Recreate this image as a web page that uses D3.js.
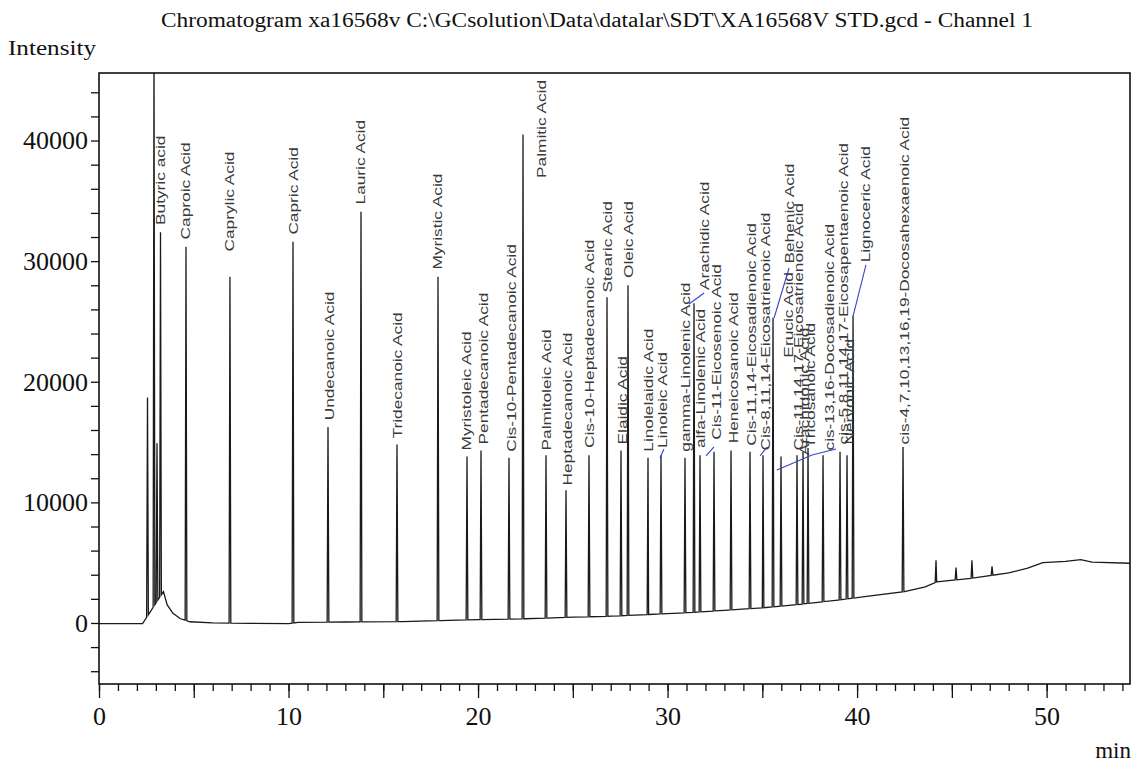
<!DOCTYPE html>
<html>
<head>
<meta charset="utf-8">
<script src="https://cdn.jsdelivr.net/npm/d3@7"></script>
<style>
  body { margin: 0; background: #fff; }
  svg text { font-family: "Liberation Serif", "Times New Roman", serif; fill: #111; }
  svg text.pk-label { font-family: "Liberation Sans", Arial, sans-serif; font-size: 13.5px; fill: #3a3a3a; }
</style>
</head>
<body>
<script>
// ---- data (time in min, intensity) ----
const peakNames = [
  "Butyric acid", "Caproic Acid", "Caprylic Acid", "Capric Acid", "Undecanoic Acid",
  "Lauric Acid", "Tridecanoic Acid", "Myristic Acid", "Myristoleic Acid", "Pentadecanoic Acid",
  "Cis-10-Pentadecanoic Acid", "Palmitic Acid", "Palmitoleic Acid", "Heptadecanoic Acid",
  "Cis-10-Heptadecanoic Acid", "Stearic Acid", "Elaidic Acid", "Oleic Acid", "Linolelaidic Acid",
  "Linoleic Acid", "gamma-Linolenic Acid", "Arachidic Acid", "alfa-Linolenic Acid",
  "Cis-11-Eicosenoic Acid", "Heneicosanoic Acid", "Cis-11,14-Eicosadienoic Acid",
  "Cis-8,11,14-Eicosatrienoic Acid", "Behenic Acid", "Erucic Acid",
  "Cis-11,14,17-Eicosatrienoic Acid", "Arachidonic Acid", "Tricosanoic Acid",
  "cis-13,16-Docosadienoic Acid", "cis-5,8,11,14,17-Eicosapentaenoic Acid", "Nervonic Acid",
  "Lignoceric Acid", "cis-4,7,10,13,16,19-Docosahexaenoic Acid"
];
const peakTimes = [
  3.245, 4.59, 6.91, 10.236, 12.083,
  13.824, 15.724, 17.887, 19.417, 20.156,
  21.633, 22.372, 23.586, 24.641,
  25.855, 26.805, 27.543, 27.913, 28.968,
  29.654, 30.92, 31.395, 31.712,
  32.451, 33.348, 34.35,
  35.036, 35.564, 35.986,
  36.83, 37.147, 37.411,
  38.203, 39.1, 39.469,
  39.786, 42.424
];
const peakHeights = [
  32400, 31200, 28700, 31600, 16250,
  34100, 14800, 28700, 13800, 14300,
  13700, 40500, 13900, 11000,
  13900, 27000, 14300, 28000, 13700,
  13900, 13700, 26500, 13900,
  14200, 14300, 14200,
  13900, 25300, 13800,
  13900, 14200, 14500,
  13900, 14200, 13900,
  25500, 14600
];
// where each label starts (its lower end), same units
const labelTimes = [
  3.271, 4.59, 6.86, 10.289, 12.136,
  13.824, 15.724, 17.887, 19.417, 20.314,
  21.739, 23.322, 23.586, 24.694,
  25.855, 26.805, 27.596, 27.965, 28.968,
  29.707, 30.92, 31.975, 31.712,
  32.556, 33.453, 34.403,
  35.142, 36.46, 36.407,
  36.883, 37.2, 37.516,
  38.518, 39.257, 39.574,
  40.47, 42.476
];
const labelLevels = [
  33000, 31800, 30800, 32200, 16800,
  34700, 15300, 29300, 14300, 14800,
  14200, 36900, 14300, 11400,
  14500, 27400, 14800, 28600, 14200,
  14500, 14200, 27600, 14500,
  15200, 14900, 14700,
  14300, 29800, 22000,
  14300, 13900, 14500,
  14300, 14800, 14800,
  29900, 14800
];
// unlabelled peaks (solvent and late small ones)
const extraTimes = [2.559, 2.902, 3.06, 44.165, 45.22, 46.06, 47.12];
const extraHeights = [18700, 48000, 14900, 5200, 4600, 5200, 4700];

// baseline of the trace
const baseTimes = [0, 2.3, 3.4, 3.6, 3.9, 4.3, 4.8, 6, 8, 10, 10.5, 13, 16, 18, 20, 22.5, 25, 27, 29, 31,
  33, 35, 37, 39, 40.5, 42.5, 43.6, 44.2, 46, 48, 49, 49.8, 51, 51.8, 52.4, 54.4];
const baseLevels = [-50, -50, 2600, 1500, 800, 350, 100, 0, -30, -50, 50, 80, 120, 200, 280, 350, 480, 560, 700, 850,
  1050, 1250, 1550, 1900, 2200, 2600, 3000, 3400, 3700, 4150, 4550, 5000, 5100, 5250, 5050, 4950];

// hand-drawn blue marks: [t1, I1, t2, I2]
const blueMarks = [
  [29.60, 13680, 29.81, 14426],
  [31.13, 26448, 31.93, 27360],
  [32.03, 13846, 32.45, 14592],
  [34.88, 13846, 35.25, 14592],
  [35.62, 25288, 36.41, 29433],
  [35.77, 12685, 37.62, 13929],
  [37.62, 13929, 38.89, 14426],
  [39.79, 25453, 40.47, 29682]
];

const yLabelTicks = [0, 10000, 20000, 30000, 40000];
const xLabelTicks = [0, 10, 20, 30, 40, 50];

// ---- chart ----
const width = 1142, height = 769;
const plot = { left: 99, top: 73, right: 1130, bottom: 684 };

const svg = d3.select("body").append("svg")
  .attr("width", width)
  .attr("height", height);

const x = d3.scaleLinear().domain([0, 54.4]).range([plot.left, plot.right]);
const y = d3.scaleLinear().domain([-5060, 45600]).range([plot.bottom, plot.top]);

svg.append("clipPath").attr("id", "plotclip")
  .append("rect")
  .attr("x", plot.left).attr("y", plot.top)
  .attr("width", plot.right - plot.left).attr("height", plot.bottom - plot.top);

function baseAt(t) {
  const i = d3.bisectLeft(baseTimes, t);
  if (i <= 0) return baseLevels[0];
  if (i >= baseTimes.length) return baseLevels[baseLevels.length - 1];
  const t0 = baseTimes[i - 1], t1 = baseTimes[i];
  return baseLevels[i - 1] + (baseLevels[i] - baseLevels[i - 1]) * (t - t0) / (t1 - t0);
}

// build trace: baseline + a narrow spike for each peak
const halfW = 0.045;
let pts = baseTimes.map((t, i) => [t, baseLevels[i]]);
const allTimes = peakTimes.concat(extraTimes);
const allHeights = peakHeights.concat(extraHeights);
allTimes.forEach((t, i) => {
  pts.push([t - halfW, baseAt(t - halfW)]);
  pts.push([t, allHeights[i]]);
  pts.push([t + halfW, baseAt(t + halfW)]);
});
pts.sort((a, b) => a[0] - b[0]);

const line = d3.line()
  .x(d => x(d[0]))
  .y(d => y(d[1]));

svg.append("path")
  .datum(pts)
  .attr("d", line)
  .attr("clip-path", "url(#plotclip)")
  .attr("fill", "none")
  .attr("stroke", "#1a1a1a")
  .attr("stroke-width", 1.3)
  .attr("stroke-linejoin", "miter");

// peak labels, rotated, reading upward
const labels = svg.append("g");
peakNames.forEach((name, i) => {
  const lx = x(labelTimes[i]) + 4.5;
  const ly = y(labelLevels[i]);
  const t = labels.append("text")
    .attr("class", "pk-label")
    .attr("transform", `translate(${lx},${ly}) rotate(-90)`)
    .text(name);
  const len = t.node().getComputedTextLength();
  t.attr("textLength", len * 1.28).attr("lengthAdjust", "spacingAndGlyphs");
});

// blue marks
svg.append("g").selectAll("line")
  .data(blueMarks)
  .join("line")
  .attr("x1", d => x(d[0])).attr("y1", d => y(d[1]))
  .attr("x2", d => x(d[2])).attr("y2", d => y(d[3]))
  .attr("stroke", "#3346c8")
  .attr("stroke-width", 1.1);

// axes
const yAxis = svg.append("g")
  .attr("transform", `translate(${plot.left},0)`)
  .call(d3.axisLeft(y)
    .tickValues(d3.range(-4000, 45001, 2000))
    .tickSize(8)
    .tickPadding(3)
    .tickFormat(d => yLabelTicks.includes(d) ? d : ""));
yAxis.select(".domain").remove();
yAxis.selectAll("line").attr("stroke", "#111").attr("stroke-width", 1.3);
yAxis.selectAll("text")
  .attr("font-family", "Liberation Serif, Times New Roman, serif")
  .attr("font-size", 26)
  .attr("fill", "#111");

const xMinor = svg.append("g")
  .attr("transform", `translate(0,${plot.bottom})`)
  .call(d3.axisBottom(x).tickValues(d3.range(0, 55, 1)).tickSize(7).tickFormat(""));
xMinor.select(".domain").remove();
xMinor.selectAll("line").attr("stroke", "#111").attr("stroke-width", 1.3);

const xMajor = svg.append("g")
  .attr("transform", `translate(0,${plot.bottom})`)
  .call(d3.axisBottom(x).tickValues(d3.range(0, 55, 5)).tickSize(14)
    .tickFormat(d => xLabelTicks.includes(d) ? d : ""));
xMajor.select(".domain").remove();
xMajor.selectAll("line").attr("stroke", "#111").attr("stroke-width", 1.3);
xMajor.selectAll("text")
  .attr("y", 32)
  .attr("dy", "0.35em")
  .attr("font-family", "Liberation Serif, Times New Roman, serif")
  .attr("font-size", 26)
  .attr("fill", "#111");

// frame
svg.append("rect")
  .attr("x", plot.left).attr("y", plot.top)
  .attr("width", plot.right - plot.left).attr("height", plot.bottom - plot.top)
  .attr("fill", "none")
  .attr("stroke", "#111")
  .attr("stroke-width", 1.6);

// titles
svg.append("text")
  .attr("x", 161).attr("y", 27)
  .attr("font-size", 20)
  .attr("textLength", 872)
  .attr("lengthAdjust", "spacingAndGlyphs")
  .text("Chromatogram xa16568v C:\\GCsolution\\Data\\datalar\\SDT\\XA16568V STD.gcd - Channel 1");

svg.append("text")
  .attr("x", 8).attr("y", 55)
  .attr("font-size", 20)
  .attr("textLength", 88)
  .attr("lengthAdjust", "spacingAndGlyphs")
  .text("Intensity");

svg.append("text")
  .attr("x", 1131).attr("y", 758)
  .attr("text-anchor", "end")
  .attr("font-size", 23)
  .text("min");
</script>
</body>
</html>
